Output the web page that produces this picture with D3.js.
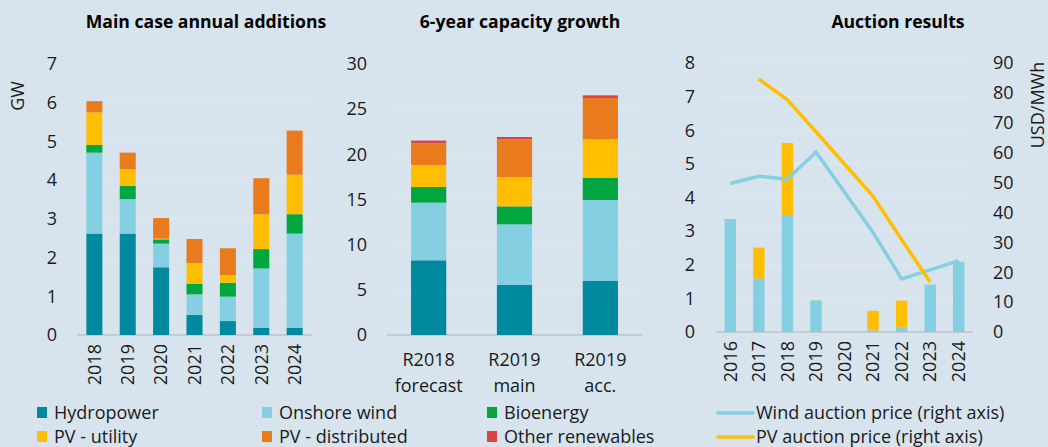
<!DOCTYPE html>
<html>
<head>
<meta charset="utf-8">
<script src="https://cdn.jsdelivr.net/npm/d3@7"></script>
<style>
  body { margin: 0; background: #d7e4ee; }
  svg { display: block; font-family: "Open Sans", sans-serif; }
</style>
</head>
<body>
<svg id="chart" width="1048" height="447"></svg>
<script>
// panel 1: main case annual additions (GW)
const years = ['2018', '2019', '2020', '2021', '2022', '2023', '2024'];
const hydro   = [2.62, 2.62, 1.75, 0.52, 0.36, 0.19, 0.19];
const onshore = [2.09, 0.89, 0.61, 0.53, 0.63, 1.53, 2.43];
const bio     = [0.20, 0.34, 0.11, 0.27, 0.36, 0.50, 0.50];
const pvUtil  = [0.84, 0.43, 0.02, 0.54, 0.20, 0.90, 1.02];
const pvDist  = [0.29, 0.43, 0.53, 0.62, 0.69, 0.93, 1.14];
const other   = [0, 0, 0, 0, 0, 0, 0];

// panel 2: 6-year capacity growth (GW)
const cases = [['R2018', 'forecast'], ['R2019', 'main'], ['R2019', 'acc.']];
const growthHydro   = [8.27, 5.54, 5.98];
const growthOnshore = [6.38, 6.71, 8.96];
const growthBio     = [1.73, 1.99, 2.44];
const growthPvUtil  = [2.44, 3.25, 4.28];
const growthPvDist  = [2.40, 4.17, 4.58];
const growthOther   = [0.30, 0.26, 0.29];

// panel 3: auction results
const auctionYears = ['2016', '2017', '2018', '2019', '2020', '2021', '2022', '2023', '2024'];
const windAwarded = [3.36, 1.59, 3.48, 0.94, 0, 0.05, 0.14, 1.41, 2.09];
const pvAwarded   = [0, 0.92, 2.14, 0, 0, 0.58, 0.79, 0, 0];
const windPrice   = [49.7, 52.1, 51.1, 60.2, 46.8, 33.3, 17.8, 20.8, 23.9];
const pvPrice     = [null, 84.6, 77.7, 67.0, 56.2, 45.4, 30.9, 16.7, null];

const seriesNames = ['Hydropower', 'Onshore wind', 'Bioenergy', 'PV - utility', 'PV - distributed', 'Other renewables'];
const colors = ['#00899f', '#84cfe2', '#00a63f', '#ffbe00', '#ea7b1c', '#dc4347'];

const svg = d3.select('#chart');
svg.append('rect').attr('width', 1048).attr('height', 447).attr('fill', '#d7e4ee');

const gridColor = '#e3e7ea';
const axisColor = '#bfc3c8';
const textColor = '#1a1a1a';

function title(x, text) {
  svg.append('text')
    .attr('x', x).attr('y', 28)
    .attr('text-anchor', 'middle')
    .attr('font-weight', 'bold')
    .attr('font-size', 17.6)
    .attr('fill', '#000')
    .text(text);
}

function gridAndAxis(y, ticks, x0, x1) {
  ticks.forEach(t => {
    if (t === 0) return;
    svg.append('line')
      .attr('x1', x0).attr('x2', x1)
      .attr('y1', y(t)).attr('y2', y(t))
      .attr('stroke', gridColor).attr('stroke-width', 1);
  });
  svg.append('line')
    .attr('x1', x0).attr('x2', x1)
    .attr('y1', y(0)).attr('y2', y(0))
    .attr('stroke', axisColor).attr('stroke-width', 1.5);
}

function tickLabels(y, ticks, x, anchor) {
  ticks.forEach(t => {
    svg.append('text')
      .attr('x', x).attr('y', y(t))
      .attr('dy', '0.35em')
      .attr('text-anchor', anchor)
      .attr('font-size', 18)
      .attr('fill', textColor)
      .text(t);
  });
}

function stackedBars(x, y, cats, layers, cols) {
  const rows = cats.map((c, i) => {
    const r = { key: c };
    layers.forEach((l, j) => r['s' + j] = l[i]);
    return r;
  });
  const stack = d3.stack().keys(layers.map((l, j) => 's' + j));
  stack(rows).forEach((layer, j) => {
    svg.append('g').selectAll('rect')
      .data(layer)
      .join('rect')
      .attr('x', d => x(d.data.key))
      .attr('width', x.bandwidth())
      .attr('y', d => y(d[1]))
      .attr('height', d => Math.max(0, y(d[0]) - y(d[1])))
      .attr('fill', cols[j]);
  });
}

function rotatedYears(x, cats, yTop) {
  cats.forEach(c => {
    svg.append('text')
      .attr('transform', `translate(${x(c) + x.bandwidth() / 2},${yTop}) rotate(-90)`)
      .attr('dy', '0.35em')
      .attr('text-anchor', 'end')
      .attr('font-size', 18)
      .attr('fill', textColor)
      .text(c);
  });
}

// ---- panel 1
const x1 = d3.scaleBand().domain(years).range([77, 312]).paddingInner(0.52).paddingOuter(0.28);
const y1 = d3.scaleLinear().domain([0, 7]).range([335, 64]);
const ticks1 = d3.range(0, 8);
gridAndAxis(y1, ticks1, 77, 312);
stackedBars(x1, y1, years, [hydro, onshore, bio, pvUtil, pvDist, other], colors);
tickLabels(y1, ticks1, 57, 'end');
rotatedYears(x1, years, 344);
svg.append('text')
  .attr('transform', 'translate(18,96) rotate(-90)')
  .attr('dy', '0.35em')
  .attr('text-anchor', 'middle')
  .attr('font-size', 18)
  .attr('fill', textColor)
  .text('GW');
title(206, 'Main case annual additions');

// ---- panel 2
const caseKeys = cases.map(c => c.join(' '));
const x2 = d3.scaleBand().domain(caseKeys).range([387, 642]).paddingInner(0.59).paddingOuter(0.28);
const y2 = d3.scaleLinear().domain([0, 30]).range([335, 64]);
const ticks2 = d3.range(0, 31, 5);
gridAndAxis(y2, ticks2, 387, 642);
stackedBars(x2, y2, caseKeys,
  [growthHydro, growthOnshore, growthBio, growthPvUtil, growthPvDist, growthOther], colors);
tickLabels(y2, ticks2, 367, 'end');
cases.forEach((c, i) => {
  const cx = x2(caseKeys[i]) + x2.bandwidth() / 2;
  c.forEach((line, k) => {
    svg.append('text')
      .attr('x', cx).attr('y', 366 + k * 26)
      .attr('text-anchor', 'middle')
      .attr('font-size', 18)
      .attr('fill', textColor)
      .text(line);
  });
});
title(520, '6-year capacity growth');

// ---- panel 3
const x3 = d3.scaleBand().domain(auctionYears).range([716, 973]).paddingInner(0.6).paddingOuter(0.3);
const y3 = d3.scaleLinear().domain([0, 8]).range([332, 63]);
const y3r = d3.scaleLinear().domain([0, 90]).range([332, 63]);
const ticks3 = d3.range(0, 9);
const ticks3r = d3.range(0, 91, 10);
gridAndAxis(y3, ticks3, 716, 973);
stackedBars(x3, y3, auctionYears, [windAwarded, pvAwarded], [colors[1], colors[3]]);
tickLabels(y3, ticks3, 695, 'end');
tickLabels(y3r, ticks3r, 993, 'start');
rotatedYears(x3, auctionYears, 341);

const priceLine = d3.line()
  .defined(d => d.v !== null)
  .x(d => x3(d.k) + x3.bandwidth() / 2)
  .y(d => y3r(d.v));
svg.append('path')
  .datum(auctionYears.map((k, i) => ({ k, v: windPrice[i] })))
  .attr('d', priceLine)
  .attr('fill', 'none')
  .attr('stroke', colors[1])
  .attr('stroke-width', 3.5);
svg.append('path')
  .datum(auctionYears.map((k, i) => ({ k, v: pvPrice[i] })))
  .attr('d', priceLine)
  .attr('fill', 'none')
  .attr('stroke', colors[3])
  .attr('stroke-width', 3.5);

svg.append('text')
  .attr('transform', 'translate(1038,105) rotate(-90)')
  .attr('dy', '0.35em')
  .attr('text-anchor', 'middle')
  .attr('font-size', 18)
  .attr('fill', textColor)
  .text('USD/MWh');
title(898, 'Auction results');

// ---- legend
const legendPos = [[37, 413], [262, 413], [487, 413], [37, 437], [262, 437], [487, 437]];
seriesNames.forEach((name, i) => {
  const [lx, ly] = legendPos[i];
  svg.append('rect')
    .attr('x', lx).attr('y', ly - 6)
    .attr('width', 10).attr('height', 11)
    .attr('fill', colors[i]);
  svg.append('text')
    .attr('x', lx + 17).attr('y', ly)
    .attr('dy', '0.35em')
    .attr('font-size', 18)
    .attr('fill', textColor)
    .text(name);
});
const lineLegend = [['Wind auction price (right axis)', colors[1], 413], ['PV auction price (right axis)', colors[3], 437]];
lineLegend.forEach(([name, col, ly]) => {
  svg.append('line')
    .attr('x1', 718).attr('x2', 753)
    .attr('y1', ly).attr('y2', ly)
    .attr('stroke', col).attr('stroke-width', 3.5)
    .attr('stroke-linecap', 'round');
  svg.append('text')
    .attr('x', 756).attr('y', ly)
    .attr('dy', '0.35em')
    .attr('font-size', 18)
    .attr('fill', textColor)
    .text(name);
});
</script>
</body>
</html>
